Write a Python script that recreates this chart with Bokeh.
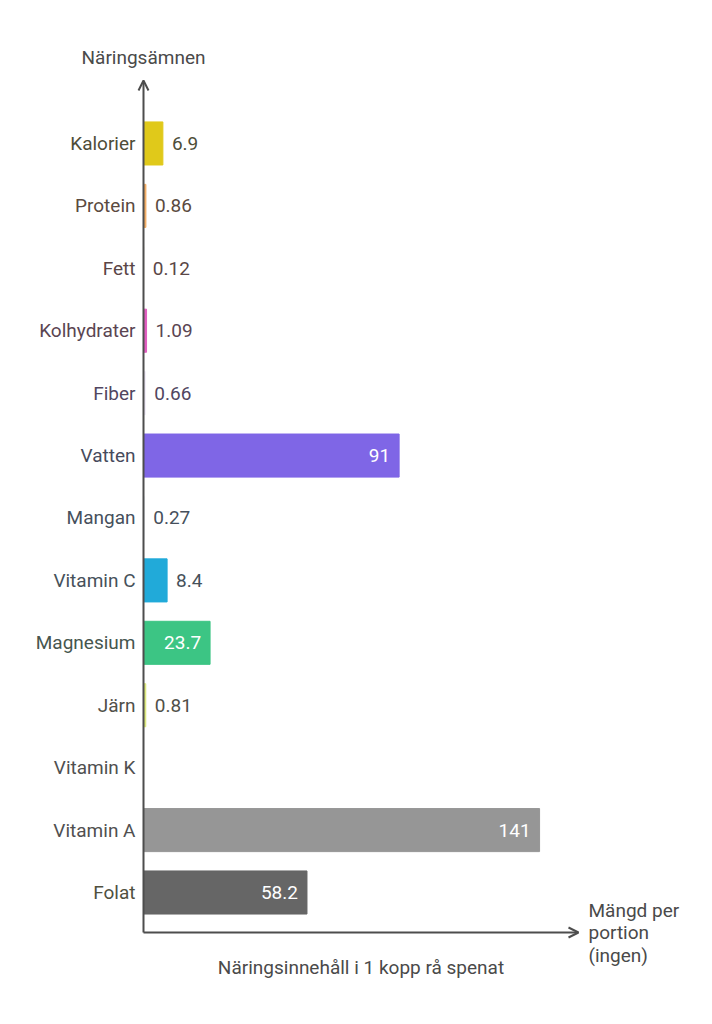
import math
from bokeh.plotting import figure
from bokeh.models import ColumnDataSource, Range1d, Arrow, OpenHead
from bokeh.core.properties import value
from bokeh.embed import file_html
from bokeh.resources import INLINE

# ---- data ----
categories = ["Kalorier", "Protein", "Fett", "Kolhydrater", "Fiber", "Vatten", "Mangan",
              "Vitamin C", "Magnesium", "Järn", "Vitamin K", "Vitamin A", "Folat"]
amounts = [6.9, 0.86, 0.12, 1.09, 0.66, 91, 0.27, 8.4, 23.7, 0.81, None, 141, 58.2]
bar_colors = ["#e0c91a", "#f3ad62", "#f2ebe6", "#e05cbf", "#f1ecf8", "#7f66e6", "#eef2f7",
              "#21aad9", "#3cc584", "#dbe878", "#9a9a9a", "#969696", "#666666"]
label_colors = ["#4e4d38", "#5a4a40", "#5a4646", "#5a4552", "#514660", "#464b5c", "#46505c",
                "#46515a", "#46564e", "#505049", "#505050", "#505050", "#50503f"]
y_title = "Näringsämnen"
x_title_lines = ["Mängd per", "portion", "(ingen)"]
caption = "Näringsinnehåll i 1 kopp rå spenat"

# ---- layout constants ----
W, H = 704, 1016
LEFT = 143          # pixel position of the value axis origin
PX = 2.809          # pixels per unit on x
PY = 62.42          # pixels per category step
Y0 = 892            # pixel (from top) of the last category
AXIS_Y = -40 / PY   # x-axis level in y units
TOP_Y = (Y0 - 80) / PY
X_END = 435 / PX

n = len(categories)
ys = [n - 1 - i for i in range(n)]
vals = [float("nan") if v is None else v for v in amounts]

font = value("Roboto")
FS = "19px"

p = figure(width=W, height=H, output_backend="svg", toolbar_location=None,
           x_range=Range1d(-LEFT / PX, (W - LEFT) / PX),
           y_range=Range1d(-(H - Y0) / PY, Y0 / PY),
           x_axis_location=None, y_axis_location=None,
           min_border_left=0, min_border_right=0, min_border_top=0, min_border_bottom=0)
p.grid.visible = False
p.outline_line_color = None
p.background_fill_color = "white"
p.border_fill_color = "white"

bars = ColumnDataSource(dict(y=ys, v=vals, color=bar_colors))
p.hbar(y="y", left=0, right="v", height=0.69, color="color", source=bars)

# category labels
cats = ColumnDataSource(dict(y=ys, x=[0] * n, t=categories, c=label_colors))
p.text(x="x", y="y", text="t", source=cats, text_align="right", text_baseline="middle",
       x_offset=-8, text_font=font, text_font_size=FS, text_color="c")

# value labels
out_x, out_y, out_t, out_c = [], [], [], []
in_x, in_y, in_t = [], [], []
for y, v, c in zip(ys, amounts, label_colors):
    if v is None:
        continue
    s = f"{v:g}"
    if v >= 20:
        in_x.append(v); in_y.append(y); in_t.append(s)
    else:
        out_x.append(v); out_y.append(y); out_t.append(s); out_c.append(c)
p.text(x="x", y="y", text="t", source=ColumnDataSource(dict(x=out_x, y=out_y, t=out_t, c=out_c)),
       text_align="left", text_baseline="middle", x_offset=9, text_font=font,
       text_font_size=FS, text_color="c")
p.text(x="x", y="y", text="t", source=ColumnDataSource(dict(x=in_x, y=in_y, t=in_t)),
       text_align="right", text_baseline="middle", x_offset=-9, text_font=font,
       text_font_size=FS, text_color="white")

# axes with arrows
axis_color = "#4d4d4d"
p.add_layout(Arrow(x_start=0, y_start=AXIS_Y, x_end=0, y_end=TOP_Y, line_color=axis_color,
                   line_width=2, end=OpenHead(size=10, line_color=axis_color, line_width=2)))
p.add_layout(Arrow(x_start=0, y_start=AXIS_Y, x_end=X_END, y_end=AXIS_Y, line_color=axis_color,
                   line_width=2, end=OpenHead(size=10, line_color=axis_color, line_width=2)))

p.text(x=[0], y=[TOP_Y], text=[y_title], text_align="center", text_baseline="middle",
       y_offset=-23, text_font=font, text_font_size=FS, text_color="#4a4a4a")
p.text(x=[X_END] * 3, y=[AXIS_Y] * 3, text=x_title_lines, text_align="left",
       text_baseline="middle", x_offset=10, y_offset=[-22, 0, 23], text_font=font,
       text_font_size=FS, text_color="#4a4a4a")
p.text(x=[X_END / 2], y=[AXIS_Y], text=[caption], text_align="center", text_baseline="middle",
       y_offset=35, text_font=font, text_font_size=FS, text_color="#4a4a4a")

open("out.html", "w").write(file_html(p, INLINE))
